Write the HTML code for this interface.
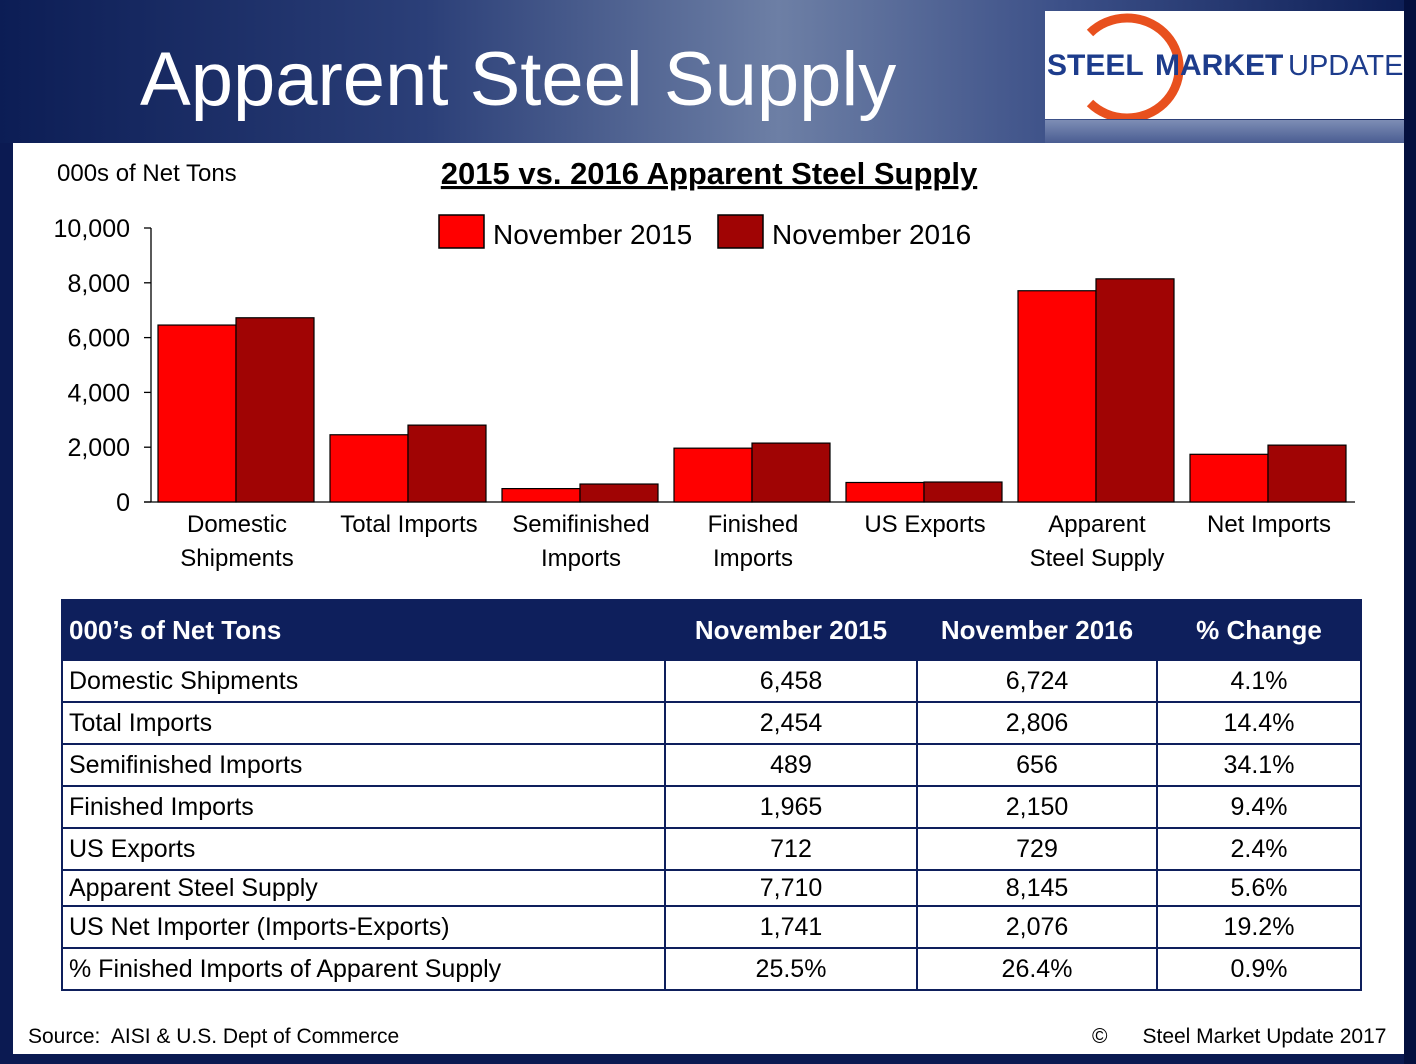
<!DOCTYPE html>
<html><head><meta charset="utf-8"><style>
body{margin:0;width:1416px;height:1064px;overflow:hidden;background:#0b1a52;font-family:"Liberation Sans",sans-serif;}
#hdr{position:absolute;left:0;top:0;width:1416px;height:143px;background:linear-gradient(90deg,#0c1d55 0%,#2b3f78 30%,#6d7fa5 55%,#3c5088 75%,#0c1d55 100%);}
#ttl{position:absolute;left:140px;top:36px;font-size:76px;color:#fff;white-space:nowrap;}
#logo{position:absolute;left:1045px;top:11px;width:360px;height:108px;background:#fff;}
#refl{position:absolute;left:1045px;top:120px;width:360px;height:23px;background:linear-gradient(#7d8db5,#4a5d92);}
#panel{position:absolute;left:13px;top:143px;width:1391px;height:911px;background:#fff;}
#rs{position:absolute;left:1404px;top:0;width:12px;height:1064px;background:#04103e;}
svg{position:absolute;left:0;top:0}
table{position:absolute;left:61px;top:599px;width:1301px;border-collapse:collapse;font-size:25px;}
td,th{border:2px solid #0e1f5c;padding:0 6px;}
th{background:#0e1f5c;color:#fff;height:58px;font-weight:bold;font-size:26px;}
td{height:40px;text-align:center}
tr.short td{height:34px}
td:first-child{text-align:left}
.foot{position:absolute;top:1025px;font-size:21px;color:#000}
</style></head><body>
<div id="hdr"></div>
<div id="ttl">Apparent Steel Supply</div>
<div id="logo">
<svg width="360" height="108">
<path d="M45 22 A52 50 0 1 1 45 92" fill="none" stroke="#e8501e" stroke-width="9"/>
<text x="2" y="64" font-size="30" font-weight="bold" fill="#1d3c8c" font-family="Liberation Sans">STEEL</text>
<text x="110" y="64" font-size="30" font-weight="bold" fill="#1d3c8c" font-family="Liberation Sans">MARKET</text>
<text x="243" y="64" font-size="29" fill="#1d3c8c" font-family="Liberation Sans">UPDATE</text>
</svg></div>
<div id="refl"></div>
<div id="panel"></div>
<div id="rs"></div>
<svg id="chart" width="1416" height="600"></svg>
<table>
<tr><th style="text-align:left">000’s of Net Tons</th><th>November 2015</th><th>November 2016</th><th>% Change</th></tr>
<tr><td style="width:589px">Domestic Shipments</td><td style="width:238px">6,458</td><td style="width:226px">6,724</td><td>4.1%</td></tr>
<tr><td>Total Imports</td><td>2,454</td><td>2,806</td><td>14.4%</td></tr>
<tr><td>Semifinished Imports</td><td>489</td><td>656</td><td>34.1%</td></tr>
<tr><td>Finished Imports</td><td>1,965</td><td>2,150</td><td>9.4%</td></tr>
<tr><td>US Exports</td><td>712</td><td>729</td><td>2.4%</td></tr>
<tr class="short"><td>Apparent Steel Supply</td><td>7,710</td><td>8,145</td><td>5.6%</td></tr>
<tr><td>US Net Importer (Imports-Exports)</td><td>1,741</td><td>2,076</td><td>19.2%</td></tr>
<tr><td>% Finished Imports of Apparent Supply</td><td>25.5%</td><td>26.4%</td><td>0.9%</td></tr>
</table>
<div class="foot" style="left:28px">Source:&nbsp; AISI &amp; U.S. Dept of Commerce</div>
<div class="foot" style="left:1092px">©&nbsp;&nbsp;&nbsp;&nbsp;&nbsp; Steel Market Update 2017</div>
<script>
const categories=[["Domestic","Shipments"],["Total Imports"],["Semifinished","Imports"],["Finished","Imports"],["US Exports"],["Apparent","Steel Supply"],["Net Imports"]];
const nov2015=[6458,2454,489,1965,712,7710,1741];
const nov2016=[6724,2806,656,2150,729,8145,2076];
const ticks=[0,2000,4000,6000,8000,10000];
const tickLabels=["0","2,000","4,000","6,000","8,000","10,000"];
const NS="http://www.w3.org/2000/svg";
const svg=document.getElementById('chart');
const x0=151,x1=1355,yTop=228,yBot=502;
const y=v=>yBot-(v/10000)*(yBot-yTop);
const cw=(x1-x0)/categories.length;
const xc=i=>x0+cw*i;
function mk(t,a){const e=document.createElementNS(NS,t);for(const k in a)e.setAttribute(k,a[k]);svg.appendChild(e);return e;}
function tx(x,yy,s,a){const e=mk('text',Object.assign({x:x,y:yy,'font-family':'Liberation Sans','font-size':23,fill:'#000'},a));e.textContent=s;return e;}
let t=tx(57,181,"000s of Net Tons",{'font-size':24});


t=tx(709,184,"2015 vs. 2016 Apparent Steel Supply",{'font-size':31,'font-weight':'bold','text-anchor':'middle','text-decoration':'underline'});


let l=mk('line',{x1:x0,y1:yTop,x2:x0,y2:yBot,stroke:'#000','stroke-width':1.3});


l=mk('line',{x1:x0-7,y1:yBot,x2:x1,y2:yBot,stroke:'#000','stroke-width':1.3});


ticks.forEach((v,i)=>{
 const tk=mk('line',{x1:x0-7,y1:y(v),x2:x0,y2:y(v),stroke:'#000','stroke-width':1.3});
 
 
 const lb=tx(130,y(v)+9,tickLabels[i],{'text-anchor':'end','font-size':25});
 
 
});
const bw=78;
categories.forEach((c,i)=>{
 const b1=mk('rect',{x:xc(i)+7,y:y(nov2015[i]),width:bw,height:yBot-y(nov2015[i]),fill:'#ff0000',stroke:'#000','stroke-width':1.2});
 
 
 const b2=mk('rect',{x:xc(i)+7+bw,y:y(nov2016[i]),width:bw,height:yBot-y(nov2016[i]),fill:'#a00404',stroke:'#000','stroke-width':1.2});
 
 
 c.forEach((s,j)=>{
  const lb=tx(xc(i)+cw/2,532+j*34,s,{'text-anchor':'middle','font-size':24});
  
  
 });
});
let r=mk('rect',{x:439,y:215,width:45,height:33,fill:'#ff0000',stroke:'#000','stroke-width':1.5});


t=tx(493,244,"November 2015",{'font-size':28});


r=mk('rect',{x:718,y:215,width:45,height:33,fill:'#a00404',stroke:'#000','stroke-width':1.5});


t=tx(772,244,"November 2016",{'font-size':28});


</script>
</body></html>
